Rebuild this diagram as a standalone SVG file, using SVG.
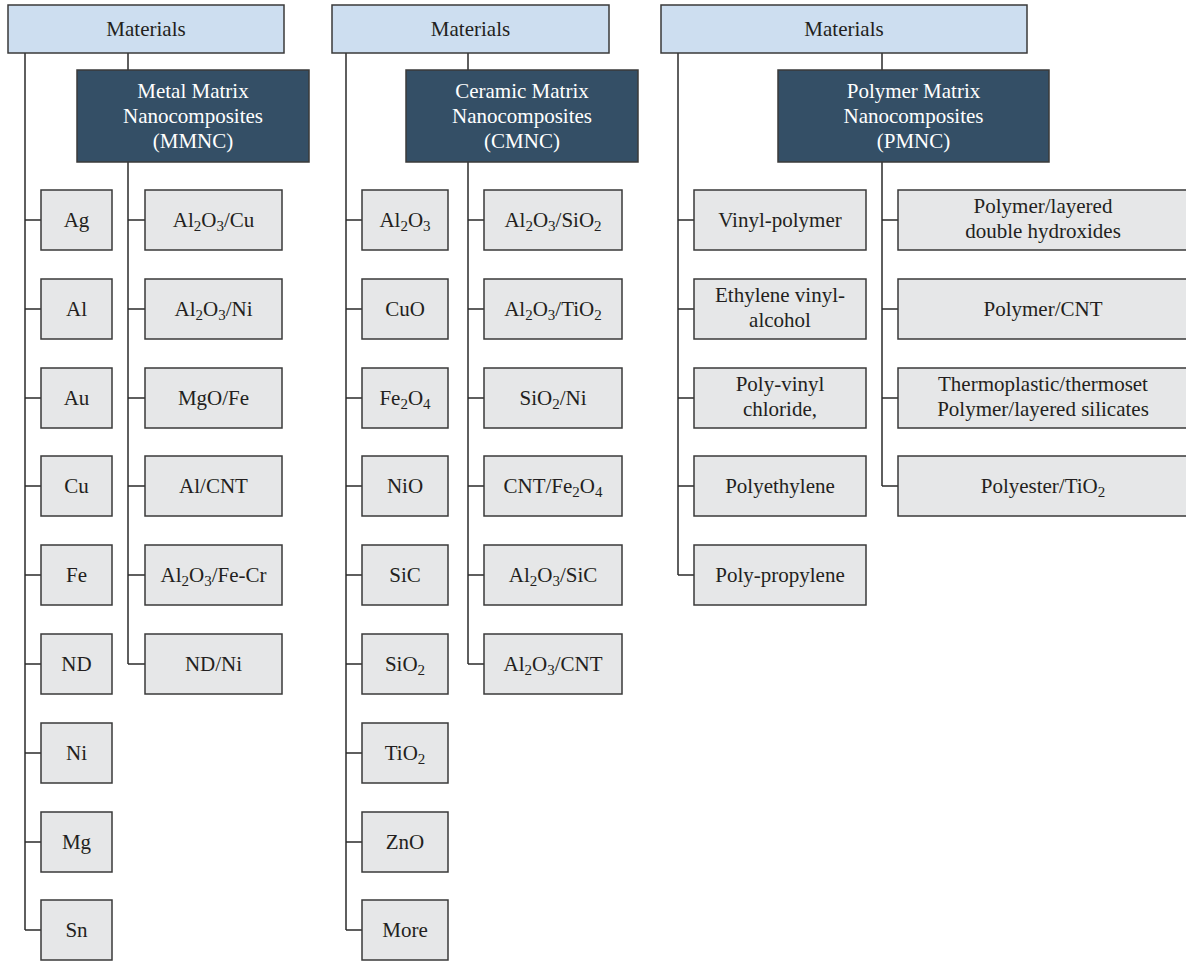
<svg xmlns="http://www.w3.org/2000/svg" width="1186" height="962" viewBox="0 0 1186 962">
<style>
  .top { fill: #cddef0; stroke: #3a3a3a; stroke-width: 1.5; }
  .mid { fill: #344f66; stroke: #3a3a3a; stroke-width: 1.5; }
  .leaf { fill: #e6e7e8; stroke: #3a3a3a; stroke-width: 1.5; }
  text { font-family: "Liberation Serif", "Times New Roman", serif; font-size: 21px; text-anchor: middle; fill: #231f20; }
  .w { fill: #ffffff; }
  .s { font-size: 15px; }
  .conn { stroke: #2b2b2b; stroke-width: 1.5; fill: none; }
</style>
<rect width="1186" height="962" fill="#ffffff"/>
<g id="connectors">
  <path class="conn" d="M25 53 V930 M25 220 H41 M25 309 H41 M25 398 H41 M25 486 H41 M25 575 H41 M25 664 H41 M25 753 H41 M25 842 H41 M25 930 H41"/>
  <path class="conn" d="M128 53 V70 M128 162 V664 M128 220 H145 M128 309 H145 M128 398 H145 M128 486 H145 M128 575 H145 M128 664 H145"/>
  <path class="conn" d="M346 53 V930 M346 220 H362 M346 309 H362 M346 398 H362 M346 486 H362 M346 575 H362 M346 664 H362 M346 753 H362 M346 842 H362 M346 930 H362"/>
  <path class="conn" d="M468 53 V70 M468 162 V664 M468 220 H484 M468 309 H484 M468 398 H484 M468 486 H484 M468 575 H484 M468 664 H484"/>
  <path class="conn" d="M678 53 V575 M678 220 H694 M678 309 H694 M678 398 H694 M678 486 H694 M678 575 H694"/>
  <path class="conn" d="M882 53 V70 M882 162 V486 M882 220 H898 M882 309 H898 M882 398 H898 M882 486 H898"/>
</g>

<g id="materials-1"><rect class="top" x="8" y="5" width="276" height="48"/><text x="146" y="36">Materials</text></g>
<g id="mmnc"><rect class="mid" x="77" y="70" width="232" height="92"/>
  <text class="w" x="193" y="98">Metal Matrix</text><text class="w" x="193" y="123">Nanocomposites</text><text class="w" x="193" y="148">(MMNC)</text></g>
<g id="m-ag"><rect class="leaf" x="41" y="190" width="71" height="60"/><text x="76.5" y="227">Ag</text></g>
<g id="m-al"><rect class="leaf" x="41" y="279" width="71" height="60"/><text x="76.5" y="316">Al</text></g>
<g id="m-au"><rect class="leaf" x="41" y="368" width="71" height="60"/><text x="76.5" y="405">Au</text></g>
<g id="m-cu"><rect class="leaf" x="41" y="456" width="71" height="60"/><text x="76.5" y="493">Cu</text></g>
<g id="m-fe"><rect class="leaf" x="41" y="545" width="71" height="60"/><text x="76.5" y="582">Fe</text></g>
<g id="m-nd"><rect class="leaf" x="41" y="634" width="71" height="60"/><text x="76.5" y="671">ND</text></g>
<g id="m-ni"><rect class="leaf" x="41" y="723" width="71" height="60"/><text x="76.5" y="760">Ni</text></g>
<g id="m-mg"><rect class="leaf" x="41" y="812" width="71" height="60"/><text x="76.5" y="849">Mg</text></g>
<g id="m-sn"><rect class="leaf" x="41" y="900" width="71" height="60"/><text x="76.5" y="937">Sn</text></g>

<g id="mm-al2o3-cu"><rect class="leaf" x="145" y="190" width="137" height="60"/><text x="213.5" y="227">Al<tspan class="s" dy="4">2</tspan><tspan dy="-4">O</tspan><tspan class="s" dy="4">3</tspan><tspan dy="-4">/Cu</tspan></text></g>
<g id="mm-al2o3-ni"><rect class="leaf" x="145" y="279" width="137" height="60"/><text x="213.5" y="316">Al<tspan class="s" dy="4">2</tspan><tspan dy="-4">O</tspan><tspan class="s" dy="4">3</tspan><tspan dy="-4">/Ni</tspan></text></g>
<g id="mm-mgo-fe"><rect class="leaf" x="145" y="368" width="137" height="60"/><text x="213.5" y="405">MgO/Fe</text></g>
<g id="mm-al-cnt"><rect class="leaf" x="145" y="456" width="137" height="60"/><text x="213.5" y="493">Al/CNT</text></g>
<g id="mm-al2o3-fecr"><rect class="leaf" x="145" y="545" width="137" height="60"/><text x="213.5" y="582">Al<tspan class="s" dy="4">2</tspan><tspan dy="-4">O</tspan><tspan class="s" dy="4">3</tspan><tspan dy="-4">/Fe-Cr</tspan></text></g>
<g id="mm-nd-ni"><rect class="leaf" x="145" y="634" width="137" height="60"/><text x="213.5" y="671">ND/Ni</text></g>

<g id="materials-2"><rect class="top" x="332" y="5" width="277" height="48"/><text x="470.5" y="36">Materials</text></g>
<g id="cmnc"><rect class="mid" x="406" y="70" width="232" height="92"/>
  <text class="w" x="522" y="98">Ceramic Matrix</text><text class="w" x="522" y="123">Nanocomposites</text><text class="w" x="522" y="148">(CMNC)</text></g>
<g id="c-al2o3"><rect class="leaf" x="362" y="190" width="86" height="60"/><text x="405" y="227">Al<tspan class="s" dy="4">2</tspan><tspan dy="-4">O</tspan><tspan class="s" dy="4">3</tspan></text></g>
<g id="c-cuo"><rect class="leaf" x="362" y="279" width="86" height="60"/><text x="405" y="316">CuO</text></g>
<g id="c-fe2o4"><rect class="leaf" x="362" y="368" width="86" height="60"/><text x="405" y="405">Fe<tspan class="s" dy="4">2</tspan><tspan dy="-4">O</tspan><tspan class="s" dy="4">4</tspan></text></g>
<g id="c-nio"><rect class="leaf" x="362" y="456" width="86" height="60"/><text x="405" y="493">NiO</text></g>
<g id="c-sic"><rect class="leaf" x="362" y="545" width="86" height="60"/><text x="405" y="582">SiC</text></g>
<g id="c-sio2"><rect class="leaf" x="362" y="634" width="86" height="60"/><text x="405" y="671">SiO<tspan class="s" dy="4">2</tspan></text></g>
<g id="c-tio2"><rect class="leaf" x="362" y="723" width="86" height="60"/><text x="405" y="760">TiO<tspan class="s" dy="4">2</tspan></text></g>
<g id="c-zno"><rect class="leaf" x="362" y="812" width="86" height="60"/><text x="405" y="849">ZnO</text></g>
<g id="c-more"><rect class="leaf" x="362" y="900" width="86" height="60"/><text x="405" y="937">More</text></g>

<g id="cc-al2o3-sio2"><rect class="leaf" x="484" y="190" width="138" height="60"/><text x="553" y="227">Al<tspan class="s" dy="4">2</tspan><tspan dy="-4">O</tspan><tspan class="s" dy="4">3</tspan><tspan dy="-4">/SiO</tspan><tspan class="s" dy="4">2</tspan></text></g>
<g id="cc-al2o3-tio2"><rect class="leaf" x="484" y="279" width="138" height="60"/><text x="553" y="316">Al<tspan class="s" dy="4">2</tspan><tspan dy="-4">O</tspan><tspan class="s" dy="4">3</tspan><tspan dy="-4">/TiO</tspan><tspan class="s" dy="4">2</tspan></text></g>
<g id="cc-sio2-ni"><rect class="leaf" x="484" y="368" width="138" height="60"/><text x="553" y="405">SiO<tspan class="s" dy="4">2</tspan><tspan dy="-4">/Ni</tspan></text></g>
<g id="cc-cnt-fe2o4"><rect class="leaf" x="484" y="456" width="138" height="60"/><text x="553" y="493">CNT/Fe<tspan class="s" dy="4">2</tspan><tspan dy="-4">O</tspan><tspan class="s" dy="4">4</tspan></text></g>
<g id="cc-al2o3-sic"><rect class="leaf" x="484" y="545" width="138" height="60"/><text x="553" y="582">Al<tspan class="s" dy="4">2</tspan><tspan dy="-4">O</tspan><tspan class="s" dy="4">3</tspan><tspan dy="-4">/SiC</tspan></text></g>
<g id="cc-al2o3-cnt"><rect class="leaf" x="484" y="634" width="138" height="60"/><text x="553" y="671">Al<tspan class="s" dy="4">2</tspan><tspan dy="-4">O</tspan><tspan class="s" dy="4">3</tspan><tspan dy="-4">/CNT</tspan></text></g>

<g id="materials-3"><rect class="top" x="661" y="5" width="366" height="48"/><text x="844" y="36">Materials</text></g>
<g id="pmnc"><rect class="mid" x="778" y="70" width="271" height="92"/>
  <text class="w" x="913.5" y="98">Polymer Matrix</text><text class="w" x="913.5" y="123">Nanocomposites</text><text class="w" x="913.5" y="148">(PMNC)</text></g>
<g id="p-vinyl"><rect class="leaf" x="694" y="190" width="172" height="60"/><text x="780" y="227">Vinyl-polymer</text></g>
<g id="p-eva"><rect class="leaf" x="694" y="279" width="172" height="60"/><text x="780" y="302">Ethylene vinyl-</text><text x="780" y="327">alcohol</text></g>
<g id="p-pvc"><rect class="leaf" x="694" y="368" width="172" height="60"/><text x="780" y="391">Poly-vinyl</text><text x="780" y="416">chloride,</text></g>
<g id="p-pe"><rect class="leaf" x="694" y="456" width="172" height="60"/><text x="780" y="493">Polyethylene</text></g>
<g id="p-pp"><rect class="leaf" x="694" y="545" width="172" height="60"/><text x="780" y="582">Poly-propylene</text></g>

<g id="pp-ldh"><rect class="leaf" x="898" y="190" width="290" height="60"/><text x="1043" y="213">Polymer/layered</text><text x="1043" y="238">double hydroxides</text></g>
<g id="pp-cnt"><rect class="leaf" x="898" y="279" width="290" height="60"/><text x="1043" y="316">Polymer/CNT</text></g>
<g id="pp-silicates"><rect class="leaf" x="898" y="368" width="290" height="60"/><text x="1043" y="391">Thermoplastic/thermoset</text><text x="1043" y="416">Polymer/layered silicates</text></g>
<g id="pp-tio2"><rect class="leaf" x="898" y="456" width="290" height="60"/><text x="1043" y="493">Polyester/TiO<tspan class="s" dy="4">2</tspan></text></g>
</svg>
